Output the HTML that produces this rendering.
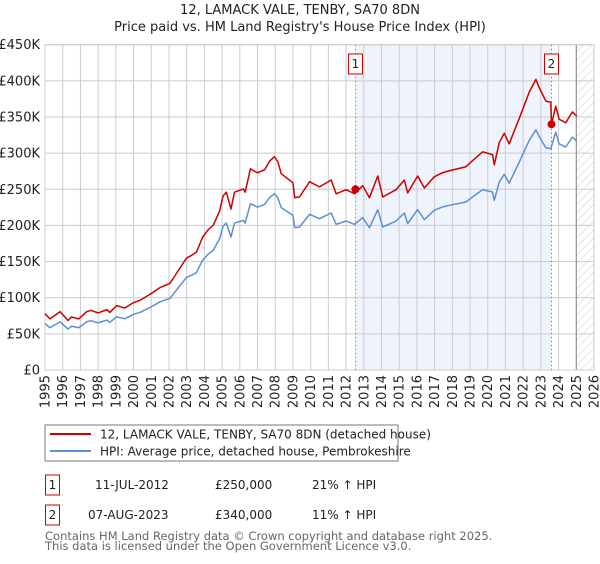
<!DOCTYPE html>
<html><head><meta charset="utf-8"><style>
body{margin:0;background:#fff;font-family:"DejaVu Sans","Liberation Sans",sans-serif;}
svg text{font-family:"DejaVu Sans","Liberation Sans",sans-serif;}
</style></head><body>
<svg id="c" width="600" height="560" xmlns="http://www.w3.org/2000/svg">
<defs><pattern id="hatch" width="6" height="6" patternUnits="userSpaceOnUse" patternTransform="rotate(45)"><line x1="0" y1="0" x2="0" y2="6" stroke="#ccc" stroke-width="1"/></pattern></defs>
<text x="300" y="14" text-anchor="middle" font-size="13" fill="#222">12, LAMACK VALE, TENBY, SA70 8DN</text>
<text x="300" y="31" text-anchor="middle" font-size="13" fill="#222">Price paid vs. HM Land Registry's House Price Index (HPI)</text>
<g id="plot"></g>
<rect x="45" y="425" width="353" height="36" fill="#fff" stroke="#777"/>
<line x1="50" y1="434" x2="91" y2="434" stroke="#cc0000" stroke-width="2"/>
<text x="100" y="438.5" font-size="12" fill="#222">12, LAMACK VALE, TENBY, SA70 8DN (detached house)</text>
<line x1="50" y1="451" x2="91" y2="451" stroke="#5b8fd6" stroke-width="2"/>
<text x="100" y="455.5" font-size="12" fill="#222">HPI: Average price, detached house, Pembrokeshire</text>
<rect x="45.5" y="475" width="14" height="20" fill="#fff" stroke="#cc0000"/>
<text x="52.5" y="489" text-anchor="middle" font-size="12" fill="#222">1</text>
<text x="95" y="489" font-size="12" fill="#222">11-JUL-2012</text>
<text x="215" y="489" font-size="12" fill="#222">£250,000</text>
<text x="312" y="489" font-size="12" fill="#222">21% ↑ HPI</text>
<rect x="45.5" y="505" width="14" height="20" fill="#fff" stroke="#cc0000"/>
<text x="52.5" y="519" text-anchor="middle" font-size="12" fill="#222">2</text>
<text x="88" y="519" font-size="12" fill="#222">07-AUG-2023</text>
<text x="215" y="519" font-size="12" fill="#222">£340,000</text>
<text x="312" y="519" font-size="12" fill="#222">11% ↑ HPI</text>
<text x="45" y="540" font-size="11.5" fill="#666">Contains HM Land Registry data © Crown copyright and database right 2025.</text>
<text x="45" y="550" font-size="11.5" fill="#666">This data is licensed under the Open Government Licence v3.0.</text>
</svg>
<script>
const yTicks=[0,50,100,150,200,250,300,350,400,450];
const yTickLabels=["£0","£50K","£100K","£150K","£200K","£250K","£300K","£350K","£400K","£450K"];
const xTicks=[1995,1996,1997,1998,1999,2000,2001,2002,2003,2004,2005,2006,2007,2008,2009,2010,2011,2012,2013,2014,2015,2016,2017,2018,2019,2020,2021,2022,2023,2024,2025,2026];
const hpiYears=[1995.0,1995.28,1995.85,1996.3,1996.5,1996.9,1997.35,1997.6,1998.0,1998.5,1998.66,1999.04,1999.5,1999.98,2000.36,2001.0,2001.5,2002.05,2002.23,2002.6,2002.99,2003.27,2003.55,2003.9,2004.2,2004.5,2004.86,2005.05,2005.24,2005.5,2005.7,2006.2,2006.3,2006.6,2007.0,2007.4,2007.7,2007.96,2008.15,2008.34,2009.0,2009.1,2009.37,2009.94,2010.5,2011.16,2011.44,2012.0,2012.48,2012.94,2013.32,2013.79,2014.07,2014.82,2015.29,2015.48,2016.04,2016.42,2016.98,2017.45,2017.83,2018.77,2019.14,2019.71,2020.27,2020.37,2020.65,2020.93,2021.21,2021.78,2022.34,2022.72,2022.9,2023.28,2023.56,2023.84,2024.03,2024.4,2024.78,2025.03];
const hpiValues=[64.4,58.4,66.7,56.6,60.7,58.4,66.7,68.1,65.3,69,65.8,73.6,70.8,76.9,79.6,87.4,94.3,99,104.5,116,128,131,134.7,151.8,160,165.6,181.7,198.8,203.3,184,203.3,207,203.3,230,225.4,229,239.2,243.8,237.9,224.5,214,197,197.8,215.3,209.3,217.2,201.5,206.1,201.5,210.7,196.9,221.8,197.8,206.1,217.2,202.5,221.8,208,220.9,225.5,227.8,232.4,239.3,249.4,246.2,234.7,260,270.6,258.6,287.6,317.5,332.2,323,307.4,306,329,312.9,308.3,322,316.5];
const priceYears=[1995.0,1995.28,1995.85,1996.3,1996.5,1996.9,1997.35,1997.6,1998.0,1998.5,1998.66,1999.04,1999.5,1999.98,2000.36,2001.0,2001.5,2002.05,2002.23,2002.6,2002.99,2003.27,2003.55,2003.9,2004.2,2004.5,2004.86,2005.05,2005.24,2005.5,2005.7,2006.2,2006.3,2006.6,2007.0,2007.4,2007.7,2007.96,2008.15,2008.34,2009.0,2009.1,2009.37,2009.94,2010.5,2011.16,2011.44,2012.0,2012.48,2012.94,2013.32,2013.79,2014.07,2014.82,2015.29,2015.48,2016.04,2016.42,2016.98,2017.45,2017.83,2018.77,2019.14,2019.71,2020.27,2020.37,2020.65,2020.93,2021.21,2021.78,2022.34,2022.72,2022.9,2023.28,2023.56,2023.6,2023.84,2024.03,2024.4,2024.78,2025.03];
const priceValues=[77.9,70.7,80.7,68.5,73.4,70.7,80.7,82.4,79,83.5,79.6,89.1,85.7,93,96.3,105.8,114.1,119.8,126.4,140.4,154.9,158.5,163,183.7,193.6,200.4,219.9,240.5,246,222.6,246,250.5,246,278.3,272.7,277.1,289.4,295,287.9,271.6,258.9,238.4,239.3,260.5,253.3,262.8,243.8,249.4,243.8,255,238.2,268.4,239.3,249.4,262.8,245,268.4,251.7,267.3,272.9,275.6,281.2,289.6,301.8,297.9,284,314.6,327.4,312.9,348,384.2,402,390.8,372,370.3,340,365,347,342,357,351];
const saleLabels=["1","2"];
const saleYears=[2012.53,2023.6];
const salePrices=[250,340];
const forecastStart=2025.0;

const L=45,R=594,T=44.7,B=370;
const X=y=>L+(y-1995)/(2026-1995)*(R-L);
const Y=v=>B-v/450*(B-T);
const NS="http://www.w3.org/2000/svg";
const g=document.getElementById('plot');
function mk(tag,attrs){const e=document.createElementNS(NS,tag);for(const k in attrs)e.setAttribute(k,attrs[k]);g.appendChild(e);return e;}

let e=mk('rect',{x:X(saleYears[0]),y:T,width:X(saleYears[1])-X(saleYears[0]),height:B-T,fill:'#eef3fc'});


yTicks.forEach((v,i)=>{
  const l=mk('line',{x1:L,x2:R,y1:Y(v),y2:Y(v),stroke:'#ccc','stroke-width':1});
  
  
  const t=mk('text',{x:L-5,y:Y(v)+4.5,'text-anchor':'end','font-size':13,fill:'#222'});
  t.textContent=yTickLabels[i];
  
  
});
xTicks.forEach(yr=>{
  const l=mk('line',{x1:X(yr),x2:X(yr),y1:T,y2:B,stroke:'#ccc','stroke-width':1});
  
  
  const t=mk('text',{x:0,y:0,'text-anchor':'end','font-size':13,fill:'#222',transform:`translate(${X(yr)+4.5},375) rotate(-90)`});
  t.textContent=String(yr);
  
  
});
e=mk('rect',{x:X(forecastStart),y:T,width:R-X(forecastStart),height:B-T,fill:'url(#hatch)'});


e=mk('line',{x1:X(forecastStart),x2:X(forecastStart),y1:T,y2:B,stroke:'#888','stroke-width':1});


e=mk('rect',{x:L,y:T,width:R-L,height:B-T,fill:'none',stroke:'#ccc'});


saleYears.forEach((yr,i)=>{
  const l=mk('line',{x1:X(yr),x2:X(yr),y1:T,y2:B,stroke:'#e06060','stroke-width':1,'stroke-dasharray':'1.5,2.5'});
  
  
  const b=mk('rect',{x:X(yr)-7,y:54,width:14,height:20,fill:'#fff',stroke:'#cc0000'});
  
  
  const t=mk('text',{x:X(yr),y:68,'text-anchor':'middle','font-size':12,fill:'#222'});
  t.textContent=saleLabels[i];
  
  
});
e=mk('polyline',{points:hpiYears.map((y,i)=>X(y)+','+Y(hpiValues[i])).join(' '),fill:'none',stroke:'#5b8fd6','stroke-width':1.5,'stroke-linejoin':'round'});


e=mk('polyline',{points:priceYears.map((y,i)=>X(y)+','+Y(priceValues[i])).join(' '),fill:'none',stroke:'#cc0000','stroke-width':1.5,'stroke-linejoin':'round'});


saleYears.forEach((yr,i)=>{
  const c=mk('circle',{cx:X(yr),cy:Y(salePrices[i]),r:4,fill:'#cc0000'});
  
  
});
</script>
</body></html>
